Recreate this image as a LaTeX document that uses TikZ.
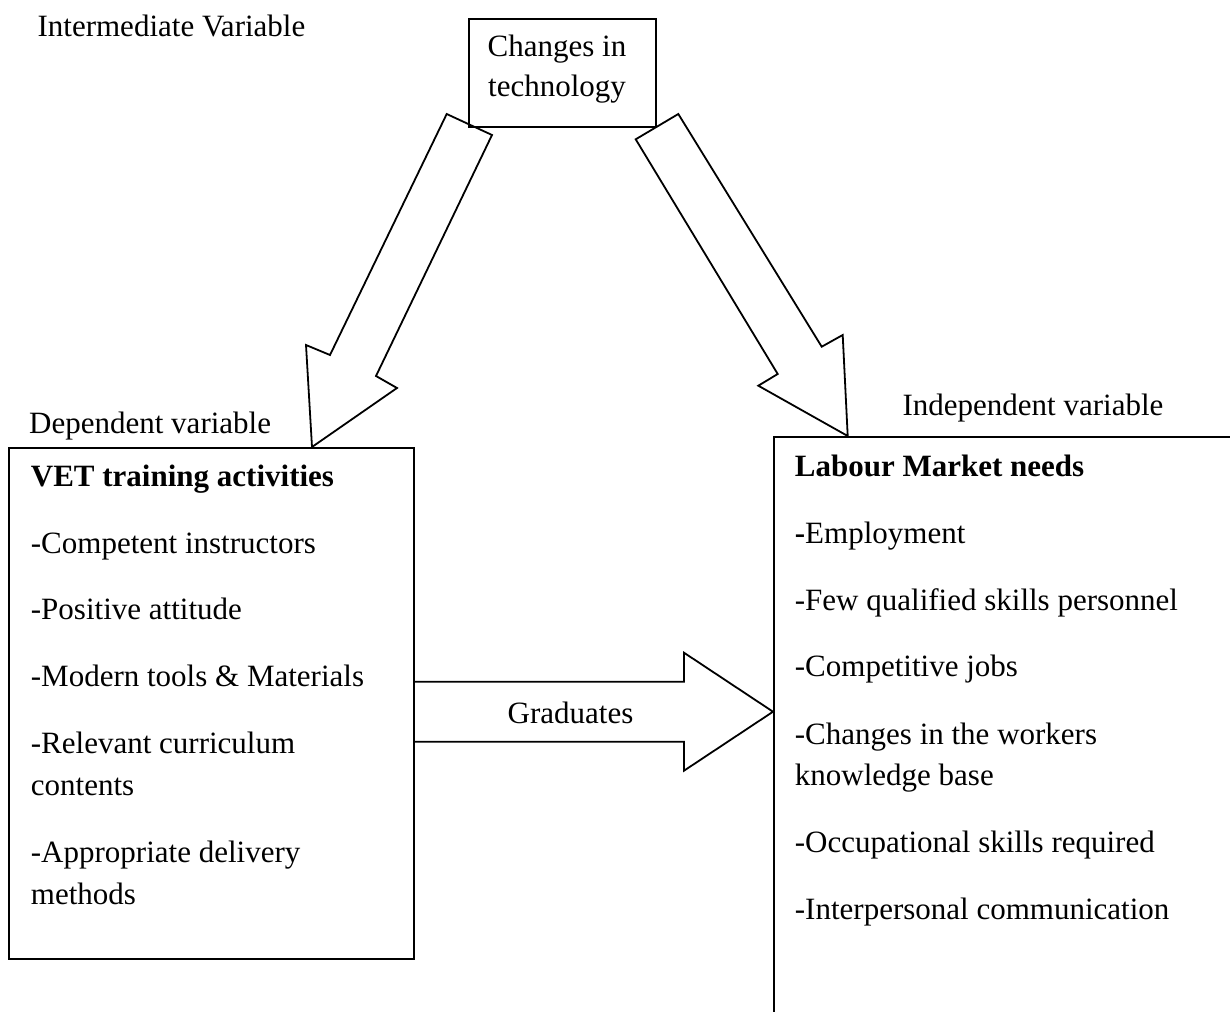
\documentclass[tikz,border=0pt]{standalone}
\usepackage{fontspec}
\setmainfont{Liberation Serif}
\begin{document}
\begin{tikzpicture}[x=1pt,y=-1pt,line width=1.8pt,line join=miter,
  txt/.style={anchor=base west,inner sep=0pt,font=\fontsize{31}{37}\selectfont},
  ctxt/.style={anchor=base,inner sep=0pt,font=\fontsize{31}{37}\selectfont},
  btxt/.style={txt,font=\fontsize{31}{37}\selectfont\bfseries},
  frame/.style={draw,anchor=north west,inner sep=0pt}]
\useasboundingbox (0,0) rectangle (1230,1011);
\clip (0,0) rectangle (1230,1011);
\fill[white] (0,0) rectangle (1230,1011);

% boxes
\node[frame,minimum width=187pt,minimum height=108pt] (tech) at (468,18) {};
\node[frame,minimum width=405pt,minimum height=511pt] (vet) at (8,447) {};
\node[frame,minimum width=460pt,minimum height=620pt] (lab) at (773,436) {};

% block arrows
\draw (446.7,114) -- (492,135) -- (376,376) -- (397,388) -- (vet.north west -| 312,0) -- (306,345) -- (330,355) -- cycle;
\draw (635.7,139.3) -- (678.3,114) -- (821.7,346.7) -- (842.7,335) -- (lab.north west -| 847.7,0) -- (758.3,385.7) -- (777.7,374) -- cycle;
\draw (vet.east |- 0,681.7) -- (684,681.7) -- (684,652.7) -- (lab.west |- 0,711.7) -- (684,770.7) -- (684,741.7) -- (vet.east |- 0,741.7);

% labels
\node[txt] (iv) at (36.7,36.7) {Intermediate Variable};
\node[txt] (dv) at (28.3,433) {Dependent variable};
\node[txt] (indv) at (901.7,415) {Independent variable};
\node[ctxt] (t1) at (557,57) {Changes in};
\node[ctxt] (t2) at (557,97) {technology};
\node[ctxt] (grad) at (570.5,723.3) {Graduates};

% left box contents
\node[btxt] (v0) at (30,486.5) {VET training activities};
\node[txt] (v1) at (30,553) {-Competent instructors};
\node[txt] (v2) at (30,619) {-Positive attitude};
\node[txt] (v3) at (30,686) {-Modern tools \& Materials};
\node[txt] (v4) at (30,753.6) {-Relevant curriculum};
\node[txt] (v4b) at (30,795) {contents};
\node[txt] (v5) at (30,862) {-Appropriate delivery};
\node[txt] (v5b) at (30,904) {methods};

% right box contents
\node[btxt] (l0) at (794,476) {Labour Market needs};
\node[txt] (l1) at (794,543.5) {\textbf{-}Employment};
\node[txt] (l2) at (794,610) {-Few qualified skills personnel};
\node[txt] (l3) at (794,676.5) {-Competitive jobs};
\node[txt] (l4) at (794,744.5) {-Changes in the workers};
\node[txt] (l4b) at (794,785.5) {knowledge base};
\node[txt] (l5) at (794,852) {-Occupational skills required};
\node[txt] (l6) at (794,919) {-Interpersonal communication};
\end{tikzpicture}
\end{document}
